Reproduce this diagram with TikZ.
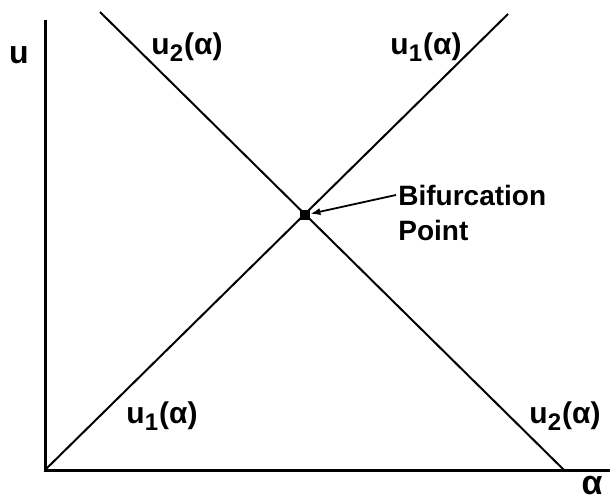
\documentclass[tikz,border=0pt]{standalone}
\usepackage{fontspec}
\setmainfont{Liberation Sans}
\usetikzlibrary{arrows.meta}
\newcommand{\ub}[1]{u\textsubscript{\fontsize{12}{12}\selectfont#1}(α)}

\begin{document}
\begin{tikzpicture}[
    x=0.5pt, y=-0.5pt,
    font=\fontsize{14}{17.5}\selectfont\bfseries,
    >={Latex[length=5pt,width=3.6pt]},
    every node/.style={inner sep=1pt},
    axis/.style={line width=1.5pt},
    branch/.style={line width=1pt},
    bifpoint/.style={fill=black, minimum size=5pt, inner sep=0pt},
    curvelabel/.style={font=\fontsize{15}{17}\selectfont\bfseries}
  ]
  \useasboundingbox (0,0) rectangle (610,503);

  % ===== AXES =====
  \coordinate (origin) at (45,470);
  \coordinate (utop)   at (45,20);
  \coordinate (aright) at (610,470);
  \draw[axis] (utop) -- (origin) -- (aright);
  \node (ulabel) at (19,55) {\fontsize{16}{16}\selectfont u};
  \node (alabel) at (592,486) {\fontsize{17}{17}\selectfont α};

  % ===== BRANCHES =====
  \coordinate (u1end)   at (508,14);
  \coordinate (u2start) at (100,12);
  \coordinate (u2end)   at (564,470);
  \draw[branch] (origin) -- (u1end);
  \draw[branch] (u2start) -- (u2end);

  \node[curvelabel] (u2top) at (187,47)  {\ub{2}};
  \node[curvelabel] (u1top) at (426,47)  {\ub{1}};
  \node[curvelabel] (u1bot) at (162,416) {\ub{1}};
  \node[curvelabel] (u2bot) at (565,416) {\ub{2}};

  % ===== BIFURCATION POINT =====
  \node[bifpoint] (bp) at (305,215) {};
  \node[anchor=base west] (bif) at (396,205) {Bifurcation};
  \node[anchor=base west] (pnt) at ([yshift=-17.5pt]bif.base west) {Point};
  \draw[->, line width=0.9pt] (bif.west) -- (bp);

\end{tikzpicture}
\end{document}
